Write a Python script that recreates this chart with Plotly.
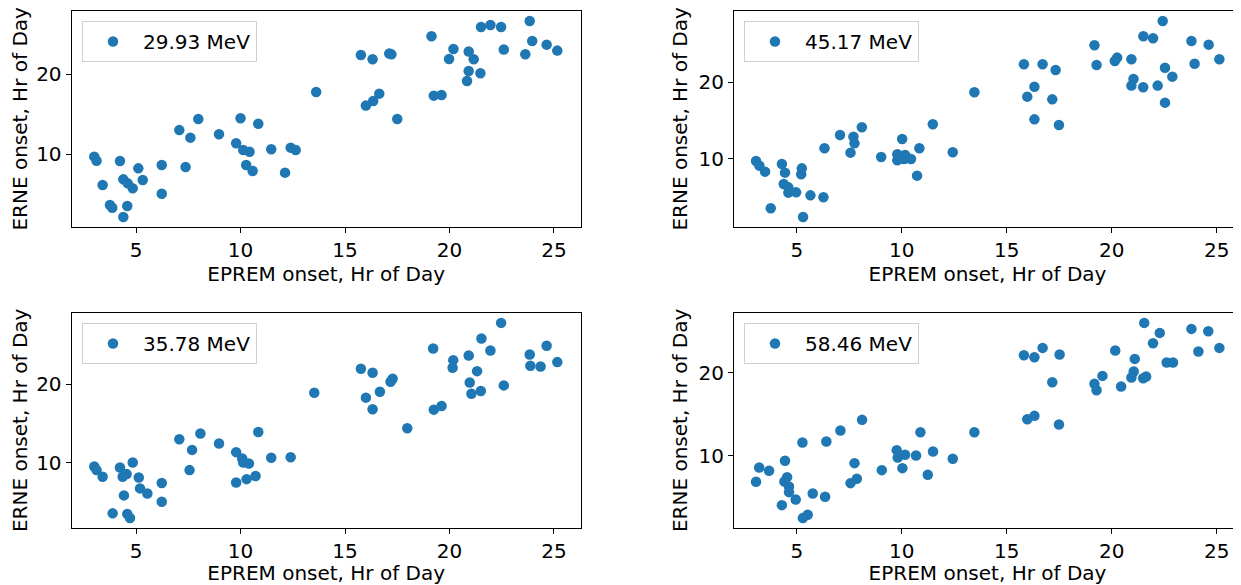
import plotly.graph_objects as go

# ---------------- data ----------------
labels = ["29.93 MeV", "45.17 MeV", "35.78 MeV", "58.46 MeV"]

x_2993 = [3.0, 3.11, 4.23, 3.40, 5.11, 5.32, 4.39, 4.6, 4.84, 3.75, 3.86, 4.58, 4.39, 6.23, 6.23,
          7.07, 7.6, 7.98, 7.37, 8.97, 10.0, 10.85, 9.79, 10.13, 10.43, 10.27, 10.58, 11.47, 12.13,
          12.4, 12.64, 13.62, 15.76, 16.32, 17.12, 17.22, 16.64, 16.35, 16.0, 17.5, 19.14, 19.25, 19.62,
          19.98, 20.19, 20.92, 21.16, 20.92, 20.84, 21.48, 21.51, 21.96, 22.47, 22.6, 23.84, 23.96,
          23.63, 24.65, 25.16]
y_2993 = [9.67, 9.16, 9.12, 6.11, 8.2, 6.74, 6.82, 6.32, 5.69, 3.6, 3.26, 3.47, 2.09, 8.62, 5.02,
          13.0, 12.05, 14.39, 8.37, 12.47, 14.48, 13.8, 11.34, 10.5, 10.29, 8.62, 7.87, 10.59, 7.66,
          10.8, 10.5, 17.78, 22.43, 21.88, 22.6, 22.5, 17.57, 16.65, 16.07, 14.39, 24.77, 17.32, 17.41,
          21.92, 23.18, 22.85, 21.88, 20.42, 19.16, 20.13, 25.94, 26.19, 25.94, 23.1, 26.69, 24.18,
          22.51, 23.72, 22.97]

x_4517 = [3.06, 3.22, 3.49, 4.29, 4.44, 5.24, 5.21, 4.38, 4.6, 4.6, 4.97, 5.65, 6.27, 3.76, 5.3,
          6.32, 7.06, 7.7, 7.75, 7.56, 8.1, 9.02, 9.79, 9.79, 10.02, 10.16, 10.11, 10.44, 10.84, 10.73,
          11.48, 12.43, 13.46, 15.82, 16.71, 17.33, 16.32, 15.98, 17.17, 16.32, 17.49, 19.18, 19.28,
          20.15, 20.26, 20.94, 21.04, 20.94, 21.5, 22.19, 22.54, 22.89, 22.54, 21.51, 21.97, 22.43,
          23.8, 23.95, 24.62, 25.13]
y_4517 = [9.74, 9.13, 8.35, 9.35, 8.22, 8.78, 8.0, 6.74, 6.3, 5.61, 5.65, 5.26, 5.0, 3.57, 2.43,
          11.39, 13.13, 12.91, 12.04, 10.83, 14.13, 10.26, 10.61, 9.83, 12.61, 10.52, 10.0, 10.0, 11.39,
          7.83, 14.52, 10.87, 18.7, 22.35, 22.35, 21.61, 19.43, 18.13, 17.78, 15.17, 14.43, 24.83, 22.26,
          22.78, 23.22, 23.0, 20.43, 19.57, 19.35, 19.57, 21.91, 20.74, 17.35, 26.0, 25.74, 28.0,
          25.39, 22.43, 24.91, 23.0]

x_3578 = [3.0, 3.11, 3.4, 4.23, 4.36, 4.55, 4.84, 5.13, 5.19, 5.54, 4.42, 3.88, 4.58, 4.71, 6.23,
          6.23, 7.07, 7.68, 8.08, 7.56, 8.97, 9.79, 9.79, 10.08, 10.13, 10.4, 10.29, 10.72, 10.85,
          11.47, 12.4, 13.53, 15.76, 16.32, 17.28, 17.18, 16.67, 16.0, 16.32, 17.98, 19.22, 19.25,
          19.62, 20.18, 20.15, 20.92, 21.32, 20.97, 21.05, 21.5, 21.53, 21.96, 22.47, 22.6, 23.84,
          23.87, 24.36, 24.65, 25.16]
y_3578 = [9.53, 9.07, 8.22, 9.41, 8.22, 8.56, 10.04, 8.14, 6.74, 6.1, 5.85, 3.56, 3.47, 2.97, 7.42,
          5.04, 13.0, 11.65, 13.73, 9.07, 12.46, 11.36, 7.5, 10.55, 10.04, 9.92, 7.92, 8.31, 13.94,
          10.64, 10.72, 18.94, 21.99, 21.48, 20.72, 20.34, 19.07, 18.31, 16.82, 14.41, 24.58, 16.78,
          17.25, 23.09, 22.12, 23.69, 21.69, 20.25, 18.81, 19.15, 25.85, 24.32, 27.84, 19.87, 23.81,
          22.37, 22.29, 24.92, 22.84]

x_5846 = [3.06, 3.21, 3.68, 4.44, 4.54, 4.41, 4.63, 4.63, 4.95, 4.29, 5.27, 5.76, 6.35, 5.29, 5.52,
          6.41, 7.08, 8.11, 7.75, 7.86, 7.56, 9.05, 9.76, 9.81, 10.03, 10.16, 10.68, 10.89, 11.24,
          11.49, 12.43, 13.46, 15.82, 16.32, 16.71, 17.52, 17.17, 15.98, 16.32, 17.49, 19.18, 19.28,
          19.56, 20.17, 20.45, 21.1, 21.05, 20.94, 21.5, 21.64, 21.55, 21.97, 22.29, 22.62, 22.92,
          23.8, 24.13, 24.6, 25.13]
y_5846 = [6.88, 8.6, 8.2, 9.4, 7.44, 6.92, 6.32, 5.64, 4.76, 4.08, 11.6, 5.48, 5.08, 2.52, 2.92,
          11.72, 13.04, 14.32, 9.12, 7.24, 6.72, 8.28, 10.68, 9.8, 8.52, 10.12, 10.04, 12.84, 7.72,
          10.52, 9.64, 12.84, 22.08, 21.84, 22.96, 22.16, 18.84, 14.4, 14.8, 13.76, 18.64, 17.88,
          19.6, 22.64, 18.32, 21.64, 20.12, 19.4, 19.32, 19.52, 25.96, 23.52, 24.76, 21.2, 21.2,
          25.24, 22.52, 24.96, 22.96]

xs = [x_2993, x_4517, x_3578, x_5846]
ys = [y_2993, y_4517, y_3578, y_5846]

# ---------------- layout ----------------
OFF = 8                      # page body margin of the browser
W, H = 1241 - OFF, 585 - OFF
FONT = "DejaVu Sans"
FS = 20
BLUE = "#1f77b4"

# pixel boxes in screenshot coordinates (left, right, top, bottom)
boxes = [(71.7, 580.7, 11, 226.7), (734, 1241, 11, 226.7),
         (71.7, 580.7, 313, 527.7), (734, 1241, 313, 527.7)]
xranges = [[1.92, 26.28], [2.01, 26.16], [1.92, 26.28], [2.01, 26.16]]
yranges = [[0.88, 27.94], [1.17, 29.3], [1.73, 29.1], [1.37, 27.15]]
legpos = [(82, 21), (744, 21), (82, 323), (744, 323)]

fig = go.Figure()
layout = dict(width=W, height=H, margin=dict(l=0, r=0, t=0, b=0),
              paper_bgcolor="white", plot_bgcolor="white",
              font=dict(family=FONT, size=FS, color="black"))

for i in range(4):
    sfx = "" if i == 0 else str(i + 1)
    leg = "legend" if i == 0 else "legend" + str(i + 1)
    fig.add_trace(go.Scatter(
        x=xs[i], y=ys[i], mode="markers", name=labels[i],
        marker=dict(color=BLUE, size=10.5, line=dict(width=0)),
        xaxis="x" + sfx, yaxis="y" + sfx, legend=leg, showlegend=True))
    l, r, t, b = boxes[i]
    l, r, t, b = l - OFF, min(r - OFF, W), t - OFF, b - OFF
    axcommon = dict(showgrid=False, zeroline=False, showline=True, linecolor="black",
                    linewidth=1.2, mirror=True, ticks="outside", ticklen=5, tickwidth=1.2,
                    tickcolor="black", tickfont=dict(family=FONT, size=FS, color="black"))
    layout["xaxis" + sfx] = dict(
        axcommon, domain=[l / W, r / W], range=xranges[i], anchor="y" + sfx,
        tickvals=[5, 10, 15, 20, 25],
        title=dict(text="EPREM onset, Hr of Day", standoff=3,
                   font=dict(family=FONT, size=FS, color="black")))
    layout["yaxis" + sfx] = dict(
        axcommon, domain=[1 - b / H, 1 - t / H], range=yranges[i], anchor="x" + sfx,
        tickvals=[10, 20],
        title=dict(text="ERNE onset, Hr of Day", standoff=5,
                   font=dict(family=FONT, size=FS, color="black")))
    lx, ly = legpos[i]
    layout[leg] = dict(x=(lx - OFF) / W, y=1 - (ly - OFF) / H, xanchor="left", yanchor="top",
                       xref="paper", yref="paper",
                       bgcolor="rgba(255,255,255,0.8)", bordercolor="#d0d0d0", borderwidth=1,
                       font=dict(family=FONT, size=FS, color="black"), itemwidth=50)

fig.update_layout(**layout)
fig.write_html("out.html")
